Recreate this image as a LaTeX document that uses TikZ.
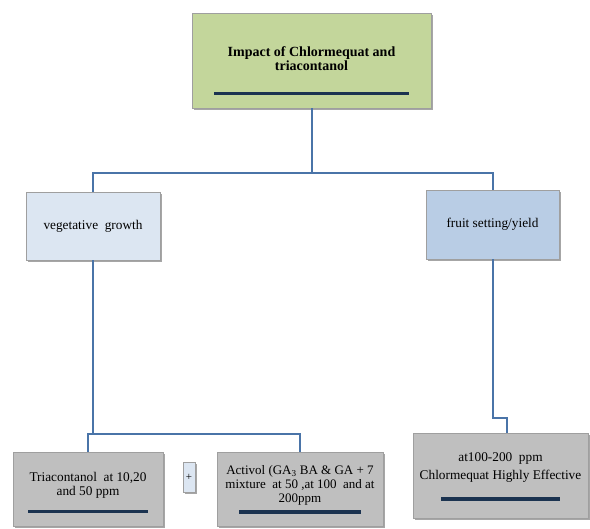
\documentclass[tikz,border=0pt]{standalone}
\usepackage{fontspec}
\setmainfont{Liberation Serif}
\usetikzlibrary{shadows}
\definecolor{titlegreen}{HTML}{C3D69B}
\definecolor{paleblue}{HTML}{DCE6F2}
\definecolor{midblue}{HTML}{B9CDE5}
\definecolor{boxgrey}{HTML}{BFBFBF}
\definecolor{linkblue}{HTML}{4A74A8}
\definecolor{barnavy}{HTML}{1B3350}
\newcommand{\navybar}[1]{{\color{barnavy}\rule{#1}{3.5pt}}}
\newcommand{\lift}[1]{\rule{0pt}{#1}}

\begin{document}
\begin{tikzpicture}[x=1pt,y=-1pt,
    box/.style={shape=rectangle,draw=gray!75,line width=0.6pt,align=center,
        font=\fontsize{13.3}{14}\selectfont,inner sep=0pt,
        drop shadow={shadow xshift=2pt,shadow yshift=-2pt,fill=black,opacity=0.35}},
    link/.style={draw=linkblue,line width=2pt}]
    \useasboundingbox (0,0) rectangle (590,529);

    \node[box,fill=titlegreen,minimum width=239pt,minimum height=95pt,font=\fontsize{14}{14}\selectfont] (Impact) at (311.5,60.5)
        {\lift{31pt}\textbf{Impact of Chlormequat and}\\\textbf{triacontanol}\\[11pt]\navybar{195pt}};
    \node[box,fill=paleblue,minimum width=134pt,minimum height=68pt] (Vegetative) at (93,226) {\lift{8pt}vegetative\ \ growth};
    \node[box,fill=midblue,minimum width=133pt,minimum height=69pt] (Fruit) at (492.5,224.5) {\lift{8pt}fruit setting/yield};
    \node[box,fill=boxgrey,minimum width=150pt,minimum height=74pt] (Triacontanol) at (88,489)
        {\lift{17pt}Triacontanol\ \ at 10,20\\and 50 ppm\\[4pt]\navybar{120pt}};
    \node[box,fill=boxgrey,minimum width=166pt,minimum height=74pt,font=\fontsize{13}{14}\selectfont] (Activol) at (300,489)
        {\lift{11pt}Activol (GA\textsubscript{3} BA \& GA + 7\\mixture\ \ at 50 ,at 100\ \ and at\\200ppm\\[-3pt]\navybar{122pt}};
    \node[box,fill=paleblue,minimum width=12pt,minimum height=30pt,font=\fontsize{11}{12}\selectfont] (Plus) at (189,477) {+};
    \node[box,fill=boxgrey,minimum width=175pt,minimum height=85pt,font=\fontsize{13.3}{18}\selectfont] (Chlormequat) at (500.5,475.5)
        {\lift{12pt}at100-200\ \ ppm\\Chlormequat Highly Effective\\[3pt]\navybar{119pt}};

    \coordinate (TopSplit) at (311.5,173);
    \coordinate (VegSplit) at (93,434);
    \coordinate (FruitBend) at (492.5,418);
    \coordinate (FruitBend2) at (507,418);

    \path [link] (Impact.south) -- (TopSplit) -| (Vegetative.north);
    \path [link] (TopSplit) -| (Fruit.north);
    \path [link] (Vegetative.south) -- (VegSplit) -| (Triacontanol.north);
    \path [link] (VegSplit) -| (Activol.north);
    \path [link] (Fruit.south) -- (FruitBend) -- (FruitBend2) -- (FruitBend2 |- Chlormequat.north);
\end{tikzpicture}
\end{document}
